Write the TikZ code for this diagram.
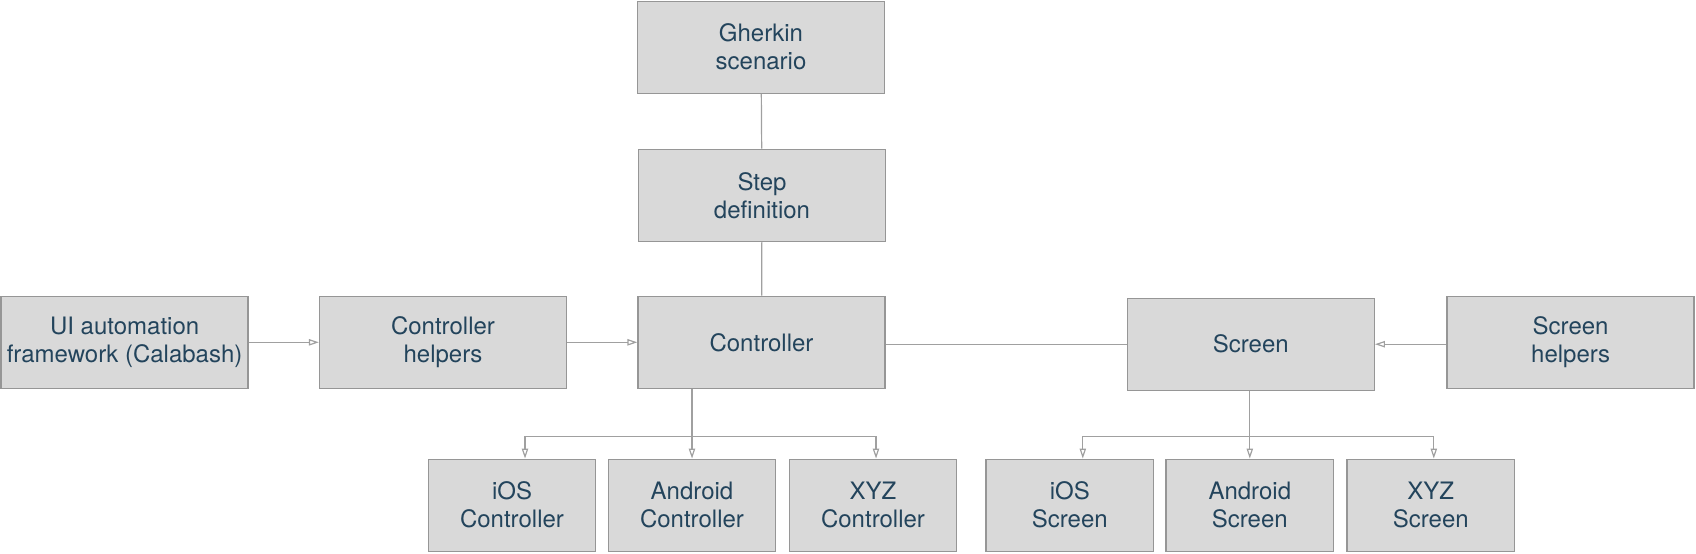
\documentclass[tikz,border=0pt]{standalone}
\usepackage{fontspec}
\setmainfont{TeX Gyre Heros}
\usetikzlibrary{arrows.meta}

\definecolor{boxgrey}{RGB}{217,217,217}
\definecolor{edgegrey}{RGB}{150,150,150}
\definecolor{linegrey}{RGB}{160,160,160}
\definecolor{textblue}{RGB}{35,68,92}

\begin{document}
\begin{tikzpicture}[x=0.5pt, y=-0.5pt,
    box/.style={draw=edgegrey, fill=boxgrey, text=textblue, line width=0.65pt,
      minimum width=123.5pt, minimum height=46pt, inner sep=0pt, align=center,
      font=\fontsize{12}{14}\selectfont},
    smallbox/.style={box, minimum width=83.7pt},
    line/.style={draw=linegrey, line width=0.6pt},
    link/.style={line, -{Triangle[open, length=5pt, width=3.2pt]}}]
    \useasboundingbox (0,0) rectangle (1696,553);

    % middle column
    \node[box] (gher) at (761,47.2) {Gherkin\\scenario};
    \node[box] (step) at (762,195.3) {Step\\definition};
    \node[box] (ctrl) at (761.5,342.3) {Controller};
    \draw[line] (gher) -- (step);
    \draw[line] (step) -- (ctrl);

    % left
    \node[box] (ui) at (124.6,342.3) {UI automation\\framework (Calabash)};
    \node[box] (chelp) at (443,342.3) {Controller\\helpers};
    \draw[link] (ui) -- (chelp);
    \draw[link] (chelp) -- (ctrl);

    % right
    \node[box] (scr) at (1250.8,344.2) {Screen};
    \node[box] (shelp) at (1570.6,342.3) {Screen\\helpers};
    \draw[line] (ctrl.east |- scr.west) -- (scr.west);
    \draw[link] (shelp.west |- scr.east) -- (scr.east);

    % controllers
    \node[smallbox] (iosc) at (512,505.2) {iOS\\Controller};
    \node[smallbox] (andc) at (692,505.2) {Android\\Controller};
    \node[smallbox] (xyzc) at (873,505.2) {XYZ\\Controller};
    \draw[line] (ctrl.south -| andc.north) -- ++(0,47.7) coordinate (cfork);
    \draw[link] (cfork) -| ([xshift=6.5pt]iosc.north);
    \draw[link] (cfork) -- (andc.north);
    \draw[link] (cfork) -| ([xshift=1.5pt]xyzc.north);

    % screens
    \node[smallbox] (ioss) at (1069.8,505.2) {iOS\\Screen};
    \node[smallbox] (ands) at (1249.8,505.2) {Android\\Screen};
    \node[smallbox] (xyzs) at (1430.8,505.2) {XYZ\\Screen};
    \draw[line] (scr.south -| ands.north) -- ++(0,46) coordinate (sfork);
    \draw[link] (sfork) -| ([xshift=6.5pt]ioss.north);
    \draw[link] (sfork) -- (ands.north);
    \draw[link] (sfork) -| ([xshift=1.5pt]xyzs.north);
\end{tikzpicture}
\end{document}
